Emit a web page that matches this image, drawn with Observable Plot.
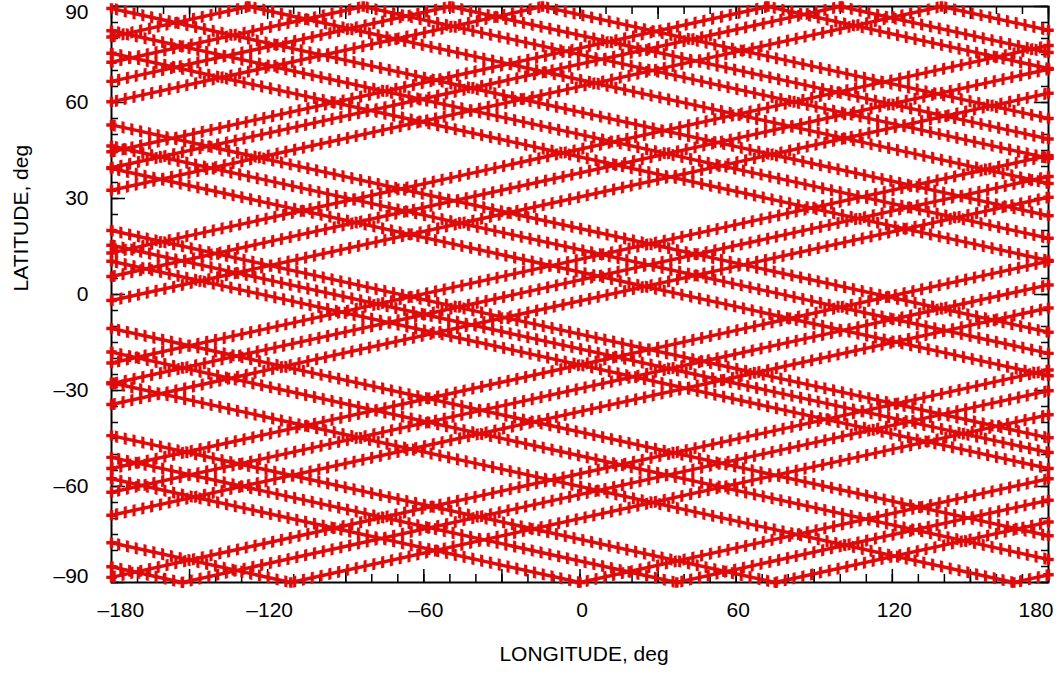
<!DOCTYPE html>
<html><head><meta charset="utf-8">
<script src="https://cdn.jsdelivr.net/npm/d3@7"></script>
<script src="https://cdn.jsdelivr.net/npm/@observablehq/plot@0.6"></script>
<style>body{margin:0;background:#fff;}</style>
</head><body><div id="chart"></div>
<script>
// ---- data: ground-track polylines (vertex lists; one id per track) ----
const trackId = [
 1,1,1, 2,2,2, 3,3, 4,4, 5,5, 6,6, 7,7, 8,8, 9,9, 10,10, 11,11, 12,12,
 13,13,13, 14,14,14, 15,15,15, 16,16,16, 17,17,17, 18,18,18, 19,19,19,
 20,20, 21,21, 22,22, 23,23, 24,24, 25,25, 26,26, 27,27, 28,28, 29,29, 30,30, 31,31,31,
 32,32,32, 33,33,33, 34,34,34];
const vertexLon = [
 -180,-111.1,180, -180,-152.8,180, -180,180, -180,180, -180,180, -180,180, -180,180, -180,180, -180,180, -180,180, -180,180, -180,180,
 -180,138.9,180, -180,100,180, -180,72.2,180, -180,-14.4,180, -180,-50,180, -180,-83.3,180, -180,-127.2,180,
 -180,180, -180,180, -180,180, -180,180, -180,180, -180,180, -180,180, -180,180, -180,180, -180,180, -180,180, -180,166.7,180,
 -180,75,180, -180,37.2,180, -180,0,180];
const vertexLat = [
 -77.6,-90,-37.6, -85.1,-90,-30.1, -88.4,-23.6, -69,-4.2, -61.8,3, -54.4,10.4, -34.4,30.4, -27.9,36.9, -21.4,43.4, -1.9,62.9, 5.6,70.4, 13,77.8,
 32.6,90,82.6, 39.6,90,75.6, 44.6,90,70.6, 60.2,90,55, 66.6,90,48.6, 72.6,90,42.6, 80.5,90,34.7,
 89.4,24.6, 82.4,17.6, 75.4,10.6, 53,-11.8, 46.4,-18.4, 39.4,-25.4, 20,-44.8, 15.4,-49.4, 10.4,-54.4, -10.6,-75.4, -18,-82.8, -27.6,-90,-87.6,
 -44.1,-90,-71.1, -50.9,-90,-64.3, -57.6,-90,-57.6];

const xLabelTicks = [-180,-120,-60,0,60,120,180];
const yLabelTicks = [-90,-60,-30,0,30,60,90];
const xMajorTicks = d3.range(-180, 181, 30);
const xMinorTicks = d3.range(-180, 181, 10);
const yMajorTicks = d3.range(-90, 91, 30);
const yMinorTicks = d3.range(-90, 91, 5);

const rows = trackId.map((t, i) => ({track: t, lon: vertexLon[i], lat: vertexLat[i]}));
const red = "#df0a0a";
const fmt = d => (d < 0 ? "\u2013" + Math.abs(d) : String(d));

const barLines = [0,1,2,3].map(k => Plot.line(rows.filter(d => d.track % 4 === k), {
  x: "lon", y: "lat", z: "track", stroke: `url(#bars${k})`, strokeWidth: 11.5,
  strokeLinecap: "butt", strokeLinejoin: "miter"}));

const chart = Plot.plot({
  width: 1056, height: 674,
  marginLeft: 111, marginRight: 8, marginTop: 6, marginBottom: 92,
  x: {domain: [-180, 180], axis: null},
  y: {domain: [-90, 90], axis: null},
  style: {fontFamily: "'Liberation Sans', Arial, sans-serif", fontSize: "21px", background: "white", color: "black"},
  marks: [
    Plot.frame({stroke: "black", strokeWidth: 2}),
    Plot.ruleX(xMajorTicks, {y1: -90, y2: -90 + 4.1, stroke: "black", strokeWidth: 1.5}),
    Plot.ruleX(xMinorTicks, {y1: -90, y2: -90 + 2.5, stroke: "black", strokeWidth: 1.5}),
    Plot.ruleX(xMajorTicks, {y1: 90, y2: 90 - 4.1, stroke: "black", strokeWidth: 1.5}),
    Plot.ruleX(xMinorTicks, {y1: 90, y2: 90 - 2.5, stroke: "black", strokeWidth: 1.5}),
    Plot.ruleY(yMajorTicks, {x1: -180, x2: -180 + 5.4, stroke: "black", strokeWidth: 1.5}),
    Plot.ruleY(yMinorTicks, {x1: -180, x2: -180 + 2.7, stroke: "black", strokeWidth: 1.5}),
    Plot.ruleY(yMajorTicks, {x1: 180, x2: 180 - 5.4, stroke: "black", strokeWidth: 1.5}),
    Plot.ruleY(yMinorTicks, {x1: 180, x2: 180 - 2.7, stroke: "black", strokeWidth: 1.5}),
    ...barLines,
    Plot.line(rows, {x: "lon", y: "lat", z: "track", stroke: red, strokeWidth: 3.5, strokeLinecap: "butt"}),
    Plot.dot(rows, {x: "lon", y: "lat", symbol: "cross", r: 4.4, fill: red, stroke: "none"}),
    // x tick labels
    Plot.text(xLabelTicks.slice(0, 1), {x: d => d, frameAnchor: "bottom", dy: 34, dx: -14, textAnchor: "start", text: fmt}),
    Plot.text(xLabelTicks.slice(1, -1), {x: d => d, frameAnchor: "bottom", dy: 34, dx: 2, text: fmt}),
    Plot.text(xLabelTicks.slice(-1), {x: d => d, frameAnchor: "bottom", dy: 34, dx: 5, textAnchor: "end", text: fmt}),
    // y tick labels
    Plot.text(yLabelTicks.slice(1, -1), {y: d => d, frameAnchor: "left", dx: -23, textAnchor: "end", text: fmt}),
    Plot.text(yLabelTicks.slice(0, 1), {y: d => d, frameAnchor: "left", dx: -23, dy: -6, textAnchor: "end", text: fmt}),
    Plot.text(yLabelTicks.slice(-1), {y: d => d, frameAnchor: "left", dx: -23, dy: 6, textAnchor: "end", text: fmt}),
    // axis titles
    Plot.text(["LONGITUDE, deg"], {frameAnchor: "bottom", dy: 78, dx: 4, text: d => d}),
    Plot.text(["LATITUDE, deg"], {frameAnchor: "left", dx: -90.5, dy: -3, rotate: -90, text: d => d})
  ]
});

const defs = d3.select(chart).insert("defs", ":first-child");
[0, 2.2, 4.4, 6.6].forEach((off, k) => {
  const p = defs.append("pattern").attr("id", `bars${k}`).attr("patternUnits", "userSpaceOnUse")
    .attr("width", 8.8).attr("height", 20).attr("x", off).attr("y", 0);
  p.append("rect").attr("x", 0).attr("y", 0).attr("width", 3.2).attr("height", 20).attr("fill", red);
});
document.getElementById("chart").appendChild(chart);
</script>
</body></html>
